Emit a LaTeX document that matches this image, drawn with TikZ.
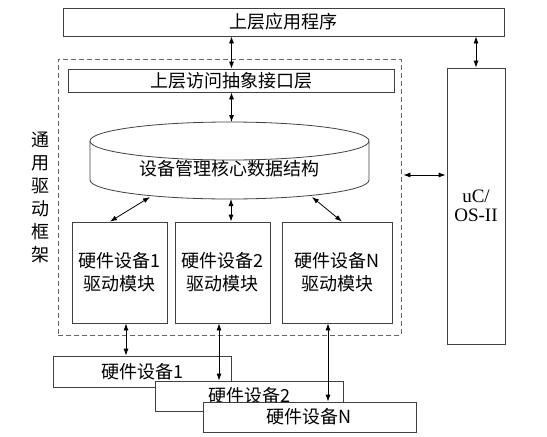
\documentclass[tikz,border=0pt]{standalone}
\usepackage{fontspec}
\setmainfont{Liberation Serif}
\newfontfamily\cjk{Noto Sans CJK SC}
\usetikzlibrary{arrows.meta}

\begin{document}
\begin{tikzpicture}[x=1pt, y=-1pt, >={Latex[length=7pt,width=5pt]}]
                % Styles
                \tikzstyle{box}=[draw=black!75, line width=0.8pt, fill=white, inner sep=0pt, font=\cjk\fontsize{18}{23}\selectfont]
                \tikzstyle{link}=[<->, line width=0.8pt]
                \useasboundingbox (0,0) rectangle (547,437);

                % Application
                \node[box, minimum width=441, minimum height=28] (app) at (283.5,22) {上层应用程序};

                % Driver framework
                \node[draw=black!60, dash pattern=on 5pt off 3pt, line width=0.8pt, minimum width=343, minimum height=276] (frame) at (229.5,197) {};
                \node[font=\cjk\fontsize{18}{23}\selectfont, align=center] (label) at (40,197) {通\\用\\驱\\动\\框\\架};
                \node[box, minimum width=326, minimum height=23] (iface) at (231.5,80.5) {上层访问抽象接口层};

                % Core data structure
                \draw[draw=black!75, line width=0.8pt, fill=white] (90,141) -- (90,180) arc[start angle=180, end angle=360, x radius=139.5pt, y radius=19pt] -- (369,141);
                \draw[draw=black!75, line width=0.8pt, fill=white] (229.5,141) ellipse [x radius=139.5pt, y radius=19pt];
                \node[font=\cjk\fontsize{18}{23}\selectfont] (core) at (229.5,169) {设备管理核心数据结构};
                \coordinate (ctop) at (231.5,122);
                \coordinate (cbot) at (231,199);
                \coordinate (cleft) at (150,197);
                \coordinate (cright) at (312,197);

                % Driver modules
                \node[box, minimum width=95, minimum height=101, align=center] (m1) at (119.5,272.5) {硬件设备1\\驱动模块};
                \node[box, minimum width=95, minimum height=101, align=center] (m2) at (222.5,272.5) {硬件设备2\\驱动模块};
                \node[box, minimum width=110, minimum height=101, align=center] (mn) at (337,272.5) {硬件设备N\\驱动模块};

                % OS
                \node[box, minimum width=58, minimum height=276, align=center, font=\fontsize{19}{19}\selectfont] (os) at (476,206) {uC/\\OS-II};

                % Hardware
                \node[box, minimum width=178, minimum height=31] (hw1) at (142,371.5) {硬件设备1};
                \node[box, minimum width=188, minimum height=30] (hw2) at (249,396) {硬件设备2};
                \node[box, minimum width=213, minimum height=30] (hwn) at (309.5,417) {硬件设备N};

                % Arrows
                \draw[link] (iface.north) -- (iface.north |- app.south);
                \draw[link] (os.north) -- (os.north |- app.south);
                \draw[link] (iface.south) -- (ctop);
                \draw[link, shorten <=2pt, shorten >=1pt] ([yshift=22pt]frame.east) -- ([yshift=22pt]frame.east -| os.west);
                \draw[link] (cleft) -- ([xshift=-9.5pt]m1.north);
                \draw[link] (cbot) -- ([xshift=8.5pt]m2.north);
                \draw[link] (cright) -- ([xshift=5pt]mn.north);
                \draw[link] ([xshift=6.5pt]m1.south) -- ([xshift=6.5pt]m1.south |- hw1.north);
                \draw[link] ([xshift=-3.5pt]m2.south) -- ([xshift=-3.5pt]m2.south |- hw2.north);
                \draw[link] ([xshift=-9pt]mn.south) -- ([xshift=-9pt]mn.south |- hwn.north);
\end{tikzpicture}
\end{document}
